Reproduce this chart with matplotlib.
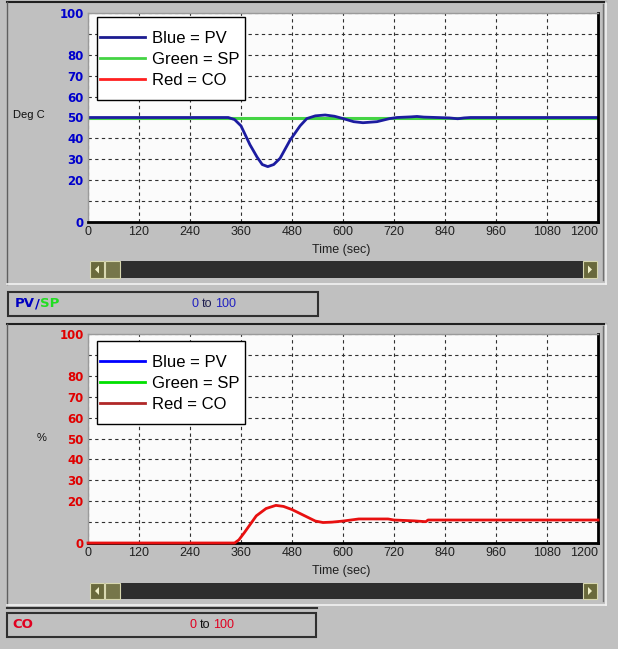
import matplotlib

matplotlib.use("Agg")
import matplotlib.pyplot as plt
from matplotlib.lines import Line2D
from matplotlib.patches import Polygon, Rectangle

plt.rcParams["font.family"] = ["Liberation Sans", "DejaVu Sans"]

pv_time = [0, 330, 345, 360, 381, 398, 410, 423, 437, 452, 475, 499, 515, 535, 558,
           580, 600, 625, 647, 680, 710, 727, 760, 774, 790, 850, 870, 885, 900, 1200]
pv_value = [50, 50, 49, 46, 37, 31, 27.5, 26.5, 27.5, 30.5, 39, 46, 49.5, 50.8, 51.2,
            50.6, 49.5, 48, 47.5, 48, 49.5, 50, 50.3, 50.5, 50.2, 49.8, 49.4, 49.8, 50, 50]
sp_time = [0, 1200]
sp_value = [50, 50]
co_time = [0, 345, 355, 368, 382, 396, 419, 442, 460, 480, 500, 515, 535, 553, 575,
           600, 637, 706, 720, 767, 795, 800, 1200]
co_value = [0, 0, 1.5, 5, 9, 13, 16.5, 18, 17.5, 16, 14, 12.5, 10.5, 9.8, 10,
            10.5, 11.5, 11.5, 11, 10.6, 10.2, 11, 11]

x_ticks = list(range(0, 1201, 120))
y_ticks = list(range(0, 101, 10))
y_labels = ["0", "", "20", "30", "40", "50", "60", "70", "80", "", "100"]
legend_labels = ["Blue = PV", "Green = SP", "Red = CO"]

W, H = 618, 649
BG = "#c0c0c0"


def fx(x):
    return x / W


def fy(y):
    return 1 - y / H


def rect_px(x0, y0, x1, y1):
    return [fx(x0), fy(y1), (x1 - x0) / W, (y1 - y0) / H]


def hline(fig, x0, x1, y, color, lw=1.0):
    fig.add_artist(Line2D([fx(x0), fx(x1)], [fy(y), fy(y)], transform=fig.transFigure,
                          color=color, linewidth=lw))


def vline(fig, x, y0, y1, color, lw=1.0):
    fig.add_artist(Line2D([fx(x), fx(x)], [fy(y0), fy(y1)], transform=fig.transFigure,
                          color=color, linewidth=lw))


def box(fig, x0, y0, x1, y1, face, edge=None, lw=0.0, z=0):
    fig.add_artist(Rectangle((fx(x0), fy(y1)), (x1 - x0) / W, (y1 - y0) / H,
                             transform=fig.transFigure, facecolor=face,
                             edgecolor=edge if edge else face, linewidth=lw, zorder=z))


def panel_frame(fig, x0, y0, x1, y1):
    hline(fig, x0, x1, y0, "#202020", 1.5)
    vline(fig, x0, y0, y1, "#606060", 1.0)
    hline(fig, x0, x1, y1, "#f2f2f2", 1.2)
    vline(fig, x1, y0, y1, "#f2f2f2", 1.2)
    vline(fig, x1 - 3, y0 + 2, y1 - 4, "#707070", 1.0)


def scrollbar(fig, y0, y1):
    box(fig, 90, y0, 597, y1, "#2e2e2e")
    box(fig, 90, y0, 104, y1, "#6a6a3c", "#d8d8b0", 0.8, 1)
    box(fig, 105, y0, 120, y1, "#76764a", "#d8d8b0", 0.8, 1)
    box(fig, 583, y0, 597, y1, "#6a6a3c", "#d8d8b0", 0.8, 1)
    ym = (y0 + y1) / 2
    for pts in ([(99, ym - 4), (99, ym + 4), (95, ym)], [(588, ym - 4), (588, ym + 4), (592, ym)]):
        fig.add_artist(Polygon([(fx(a), fy(b)) for a, b in pts], closed=True,
                               transform=fig.transFigure, facecolor="#f0f0c8",
                               edgecolor="none", zorder=2))


def colored_text(fig, x, y, parts, size=9):
    # parts: (text, colour, weight, family, gap after in px)
    renderer = fig.canvas.get_renderer()
    for s, color, weight, family, gap in parts:
        t = fig.text(fx(x), fy(y), s, fontsize=size, color=color, fontweight=weight,
                     family=family, va="center", ha="left")
        x += t.get_window_extent(renderer).width + gap


def style_axes(ax, tick_color):
    ax.set_facecolor("#fbfbfb")
    ax.set_xlim(0, 1200)
    ax.set_ylim(0, 100)
    ax.set_xticks(x_ticks)
    ax.set_xticklabels([str(t) for t in x_ticks], fontsize=9, color="#202020")
    ax.get_xticklabels()[-1].set_horizontalalignment("right")
    ax.set_yticks(y_ticks)
    ax.set_yticklabels(y_labels, fontsize=8.5, color=tick_color, fontweight="bold",
                       family="DejaVu Sans")
    ax.tick_params(length=0, pad=3)
    ax.grid(True, color="#303030", linestyle=(0, (3, 3)), linewidth=0.8)
    for side in ("left", "top"):
        ax.spines[side].set_color("#9a9a9a")
        ax.spines[side].set_linewidth(1.0)
    for side in ("bottom", "right"):
        ax.spines[side].set_color("#000000")
        ax.spines[side].set_linewidth(2.0)


def add_legend(fig, ax, colors, top):
    ax.add_patch(Rectangle((fx(97), fy(top + 83)), 148 / W, 83 / H, transform=fig.transFigure,
                           facecolor="white", edgecolor="black", linewidth=1.0, zorder=4.5,
                           clip_on=False))
    handles = [Line2D([], [], color=c, linewidth=2.0) for c in colors]
    ax.legend(handles, legend_labels, loc="upper left",
              bbox_to_anchor=(fx(100), fy(top + 14)), bbox_transform=fig.transFigure,
              borderaxespad=0, borderpad=0, fontsize=12, frameon=False,
              handlelength=2.7, handletextpad=0.4, labelspacing=0.36)


fig = plt.figure(figsize=(W / 100, H / 100), dpi=100, facecolor=BG)

# top panel
panel_frame(fig, 7, 2, 606, 284)
ax1 = fig.add_axes(rect_px(88, 13, 598, 222))
style_axes(ax1, "#0000cc")
ax1.plot(sp_time, sp_value, color="#44d444", linewidth=2.2)
ax1.plot(pv_time, pv_value, color="#1c1ca0", linewidth=2.0)
add_legend(fig, ax1, ["#1c1c90", "#44d444", "#ff2020"], 17)
fig.text(fx(13), fy(115), "Deg C", fontsize=8, va="center", ha="left", color="#101010")
fig.text(fx(341), fy(250), "Time (sec)", fontsize=9, va="center", ha="center", color="#202020")
scrollbar(fig, 261, 278)

box(fig, 8, 292, 318, 316, BG, "#303030", 1.5)
colored_text(fig, 15, 304, [("PV", "#0000c0", "bold", "DejaVu Sans", 0),
                            ("/", "#0000c0", "bold", "DejaVu Sans", 0),
                            ("SP", "#22dd22", "bold", "DejaVu Sans", 0)], size=9.5)
colored_text(fig, 192, 304, [("0", "#2020c0", "normal", "Liberation Sans", 3),
                             ("to", "#202050", "normal", "Liberation Sans", 3),
                             ("100", "#2020c0", "normal", "Liberation Sans", 0)])

# bottom panel
panel_frame(fig, 7, 324, 606, 605)
ax2 = fig.add_axes(rect_px(88, 334, 598, 543))
style_axes(ax2, "#e00000")
ax2.plot(co_time, co_value, color="#e81010", linewidth=2.0, zorder=3, clip_on=False)
add_legend(fig, ax2, ["#0000ff", "#00e000", "#b02828"], 341)
fig.text(fx(37), fy(438), "%", fontsize=8, va="center", ha="left", color="#101010")
fig.text(fx(341), fy(571), "Time (sec)", fontsize=9, va="center", ha="center", color="#202020")
scrollbar(fig, 583, 599)

hline(fig, 7, 317, 608, "#303030", 1.5)
box(fig, 7, 613, 316, 637, BG, "#303030", 1.5)
colored_text(fig, 12, 625, [("CO", "#e00020", "bold", "DejaVu Sans", 0)], size=9.5)
colored_text(fig, 190, 625, [("0", "#e00020", "normal", "Liberation Sans", 3),
                             ("to", "#101010", "normal", "Liberation Sans", 3),
                             ("100", "#e00020", "normal", "Liberation Sans", 0)])

fig.savefig("out.png", dpi=100, facecolor=BG)
